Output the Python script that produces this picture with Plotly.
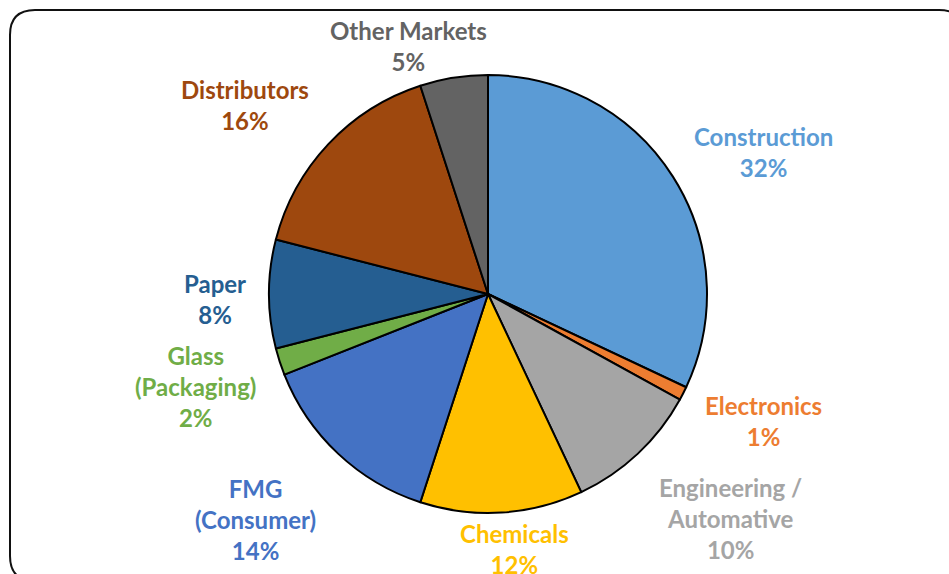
import plotly.graph_objects as go

# Market segments, their share (%) and the slice colours
segments = ["Construction", "Electronics", "Engineering /<br>Automative", "Chemicals",
            "FMG<br>(Consumer)", "Glass<br>(Packaging)", "Paper", "Distributors", "Other Markets"]
shares = [32, 1, 10, 12, 14, 2, 8, 16, 5]
colors = ["#5B9BD5", "#ED7D31", "#A5A5A5", "#FFC000", "#4472C4",
          "#70AD47", "#255E91", "#9E480E", "#636363"]

# Label block centres (pixels in the 949x574 page)
label_xy = [(763, 152), (763, 421), (730, 518), (514, 549), (255, 519),
            (195, 386), (215, 299), (245, 105), (408, 46)]

W, H = 949, 574
FONT = "Lato"


def px(x):
    return x / W


def py(y):
    return 1 - y / H


# Pie placement: centre and radius in pixels
cx, cy, r = 488, 294, 219

fig = go.Figure(go.Pie(
    labels=segments,
    values=shares,
    sort=False,
    direction="clockwise",
    rotation=0,
    marker=dict(colors=colors, line=dict(color="#000000", width=2)),
    textinfo="none",
    hoverinfo="label+percent",
    showlegend=False,
    domain=dict(x=[px(cx - r), px(cx + r)], y=[py(cy + r), py(cy - r)]),
))

total = sum(shares)
for lab, val, col, (lx, ly) in zip(segments, shares, colors, label_xy):
    pct = round(100 * val / total)
    fig.add_annotation(
        x=px(lx), y=py(ly), xref="paper", yref="paper",
        text=f"<b>{lab}<br>{pct}%</b>",
        showarrow=False, xanchor="center", yanchor="middle",
        font=dict(family=FONT, size=24, color=col),
    )

# Rounded chart frame (partly running off the page on the right and bottom)
L, T, R, B, rad = 10, 10, 964, 581, 25
path = (
    f"M {px(L)},{py(T + rad)} "
    f"Q {px(L)},{py(T)} {px(L + rad)},{py(T)} "
    f"L {px(R - rad)},{py(T)} "
    f"Q {px(R)},{py(T)} {px(R)},{py(T + rad)} "
    f"L {px(R)},{py(B - rad)} "
    f"Q {px(R)},{py(B)} {px(R - rad)},{py(B)} "
    f"L {px(L + rad)},{py(B)} "
    f"Q {px(L)},{py(B)} {px(L)},{py(B - rad)} Z"
)
fig.add_shape(type="path", path=path, xref="paper", yref="paper",
              line=dict(color="#111111", width=2), layer="above")

fig.update_layout(
    width=W, height=H,
    margin=dict(l=0, r=0, t=0, b=0),
    paper_bgcolor="#ffffff",
    plot_bgcolor="#ffffff",
    font=dict(family=FONT),
)

fig.write_html("out.html")
